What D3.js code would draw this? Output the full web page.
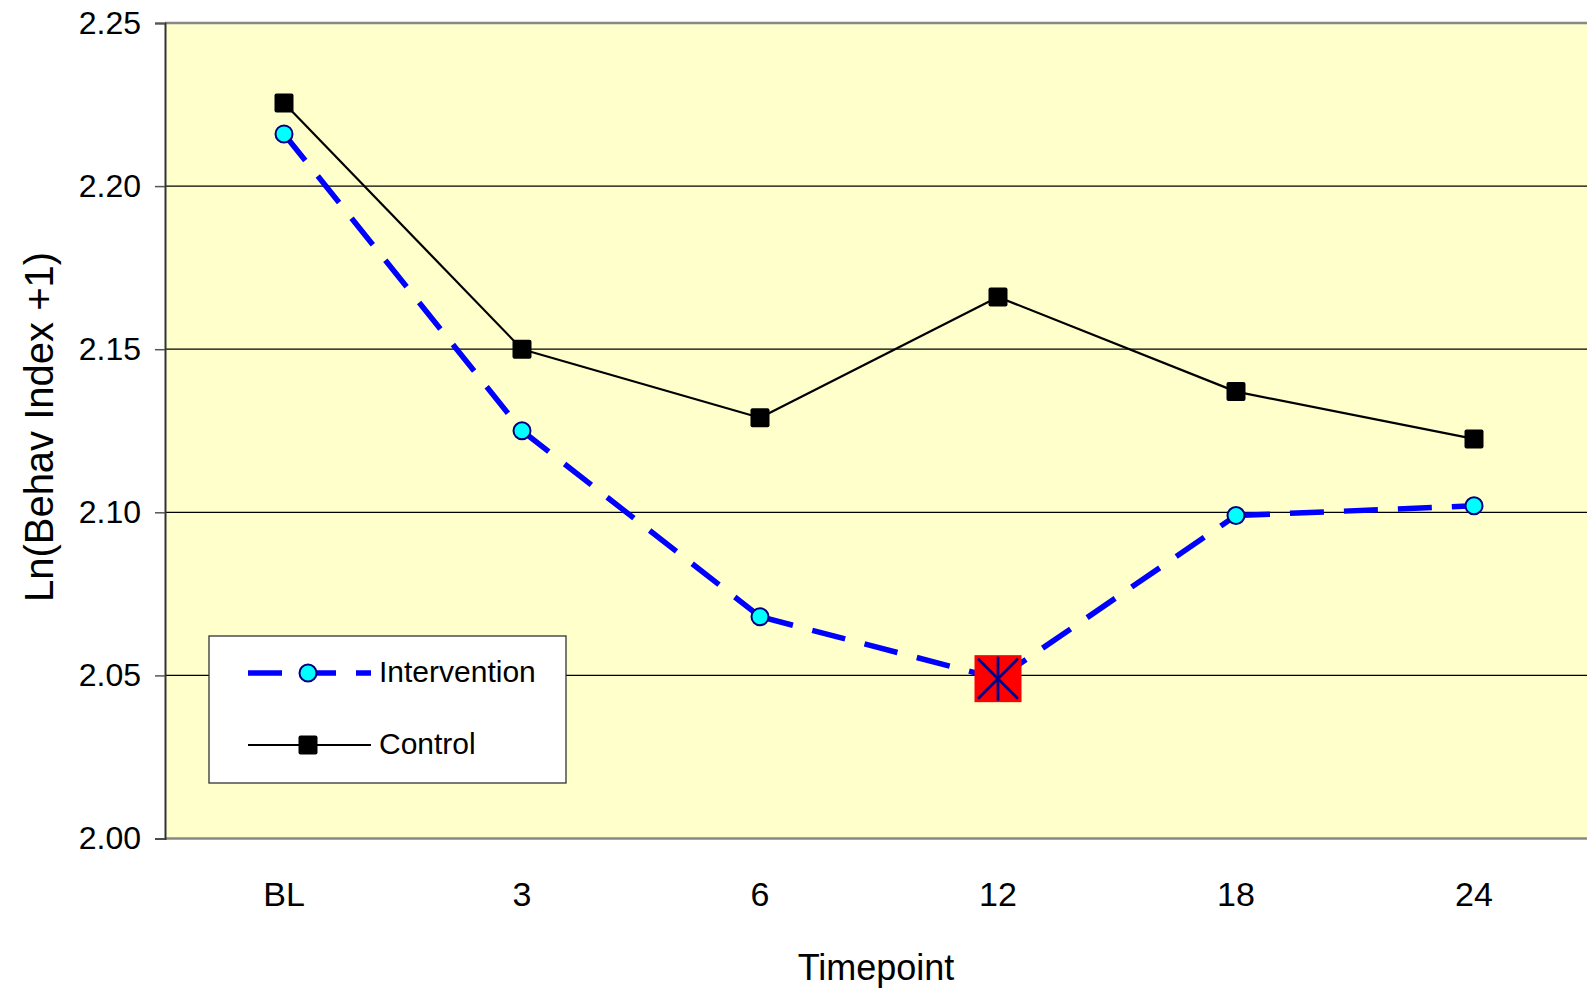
<!DOCTYPE html>
<html>
<head>
<meta charset="utf-8">
<script src="https://cdn.jsdelivr.net/npm/d3@7"></script>
<style>
  body { margin: 0; background: #fff; }
  text { font-family: "Liberation Sans", Arial, sans-serif; fill: #000; }
</style>
</head>
<body>
<div id="chart"></div>
<script>
// chart values
var categories = ["BL", "3", "6", "12", "18", "24"];
var intervention = [2.216, 2.125, 2.068, 2.049, 2.099, 2.102];
var control = [2.2255, 2.150, 2.129, 2.166, 2.137, 2.1225];
var yTicks = [2.00, 2.05, 2.10, 2.15, 2.20, 2.25];
var highlightCategory = "12";
var seriesNames = ["Intervention", "Control"];

var W = 1587, H = 990;
var plot = { left: 165, right: 1587, top: 23, bottom: 838.5 };

var svg = d3.select("#chart").append("svg")
    .attr("width", W)
    .attr("height", H);

// the category bands run a little past the right edge of the picture
var xScale = d3.scaleBand().domain(categories).range([plot.left, 1593]).padding(0);
var yScale = d3.scaleLinear().domain([2.0, 2.25]).range([plot.bottom, plot.top]);
function cx(d) { return xScale(d) + xScale.bandwidth() / 2; }

// plot background
svg.append("rect")
    .attr("x", plot.left)
    .attr("y", plot.top)
    .attr("width", plot.right - plot.left)
    .attr("height", plot.bottom - plot.top)
    .attr("fill", "#FFFFCC");

// gridlines
svg.append("g")
    .selectAll("line")
    .data(yTicks.filter(function (t) { return t > 2.0 && t < 2.25; }))
    .enter().append("line")
    .attr("x1", plot.left)
    .attr("x2", plot.right)
    .attr("y1", function (d) { return yScale(d); })
    .attr("y2", function (d) { return yScale(d); })
    .attr("stroke", "#000")
    .attr("stroke-width", 1.3);

// top and bottom borders
svg.append("line")
    .attr("x1", plot.left).attr("x2", plot.right)
    .attr("y1", plot.top).attr("y2", plot.top)
    .attr("stroke", "#888").attr("stroke-width", 2.5);
svg.append("line")
    .attr("x1", plot.left).attr("x2", plot.right)
    .attr("y1", plot.bottom).attr("y2", plot.bottom)
    .attr("stroke", "#888").attr("stroke-width", 2.5);

// left axis
var yAxis = svg.append("g")
    .attr("transform", "translate(" + plot.left + ",0)")
    .call(d3.axisLeft(yScale).tickValues(yTicks).tickFormat(d3.format(".2f")).tickSize(10).tickPadding(14));
yAxis.select(".domain").attr("stroke", "#333").attr("stroke-width", 2);
yAxis.selectAll(".tick line").attr("stroke", "#555").attr("stroke-width", 1.5);
yAxis.selectAll(".tick text")
    .style("font-size", "32px")
    .style("font-family", "'Liberation Sans', Arial, sans-serif")
    .attr("fill", "#000");

// x labels
svg.append("g")
    .selectAll("text")
    .data(categories)
    .enter().append("text")
    .attr("x", function (d) { return cx(d); })
    .attr("y", 906)
    .attr("text-anchor", "middle")
    .style("font-size", "34px")
    .text(function (d) { return d; });

// axis titles
svg.append("text")
    .attr("x", (plot.left + plot.right) / 2)
    .attr("y", 980)
    .attr("text-anchor", "middle")
    .style("font-size", "36px")
    .text("Timepoint");

svg.append("text")
    .attr("transform", "translate(53," + 427 + ") rotate(-90)")
    .attr("text-anchor", "middle")
    .style("font-size", "40px")
    .text("Ln(Behav Index +1)");

// lines, drawn segment by segment so the dash pattern restarts at each point
var segLine = d3.line()
    .x(function (d) { return cx(d.cat); })
    .y(function (d) { return yScale(d.value); });

function pairs(values) {
    var out = [];
    for (var i = 0; i < values.length - 1; i++) {
        out.push([{ cat: categories[i], value: values[i] }, { cat: categories[i + 1], value: values[i + 1] }]);
    }
    return out;
}

svg.append("g")
    .selectAll("path")
    .data(pairs(control))
    .enter().append("path")
    .attr("d", segLine)
    .attr("fill", "none")
    .attr("stroke", "#000")
    .attr("stroke-width", 2.2);

svg.append("g")
    .selectAll("path")
    .data(pairs(intervention))
    .enter().append("path")
    .attr("d", segLine)
    .attr("fill", "none")
    .attr("stroke", "#0000FF")
    .attr("stroke-width", 5.5)
    .attr("stroke-dasharray", "34,20");

// control markers
svg.append("g")
    .selectAll("rect")
    .data(control)
    .enter().append("rect")
    .attr("x", function (d, i) { return cx(categories[i]) - 9.5; })
    .attr("y", function (d) { return yScale(d) - 9.5; })
    .attr("width", 19)
    .attr("height", 19)
    .attr("rx", 2)
    .attr("fill", "#000");

// intervention markers
svg.append("g")
    .selectAll("circle")
    .data(intervention)
    .enter().append("circle")
    .attr("cx", function (d, i) { return cx(categories[i]); })
    .attr("cy", function (d) { return yScale(d); })
    .attr("r", 8.5)
    .attr("fill", "#00FFFF")
    .attr("stroke", "#000080")
    .attr("stroke-width", 2);

// highlighted point
var hi = categories.indexOf(highlightCategory);
var hx = cx(highlightCategory), hy = yScale(intervention[hi]);
var hs = 23.5;
svg.append("rect")
    .attr("x", hx - hs).attr("y", hy - hs)
    .attr("width", hs * 2).attr("height", hs * 2)
    .attr("fill", "#FF0000");
var star = svg.append("g").attr("stroke", "#00008B").attr("stroke-width", 2.8);
star.append("line").attr("x1", hx - 20).attr("y1", hy - 20).attr("x2", hx + 20).attr("y2", hy + 20);
star.append("line").attr("x1", hx + 20).attr("y1", hy - 20).attr("x2", hx - 20).attr("y2", hy + 20);
star.append("line").attr("x1", hx).attr("y1", hy - 22).attr("x2", hx).attr("y2", hy + 22);

// legend
var legend = svg.append("g");
legend.append("rect")
    .attr("x", 209).attr("y", 636)
    .attr("width", 357).attr("height", 147)
    .attr("fill", "#fff")
    .attr("stroke", "#333")
    .attr("stroke-width", 1.3);

var legendRows = [673, 745];
legend.append("path")
    .attr("d", "M248," + legendRows[0] + "H371")
    .attr("stroke", "#0000FF").attr("stroke-width", 5.5)
    .attr("stroke-dasharray", "34,20");
legend.append("circle")
    .attr("cx", 308).attr("cy", legendRows[0]).attr("r", 8.5)
    .attr("fill", "#00FFFF").attr("stroke", "#000080").attr("stroke-width", 2);
legend.append("path")
    .attr("d", "M248," + legendRows[1] + "H371")
    .attr("stroke", "#000").attr("stroke-width", 2.2);
legend.append("rect")
    .attr("x", 298.5).attr("y", legendRows[1] - 9.5)
    .attr("width", 19).attr("height", 19).attr("rx", 2)
    .attr("fill", "#000");

legend.selectAll("text.lbl")
    .data(seriesNames)
    .enter().append("text")
    .attr("class", "lbl")
    .attr("x", 379)
    .attr("y", function (d, i) { return legendRows[i] + 9; })
    .style("font-size", "30px")
    .text(function (d) { return d; });
</script>
</body>
</html>
